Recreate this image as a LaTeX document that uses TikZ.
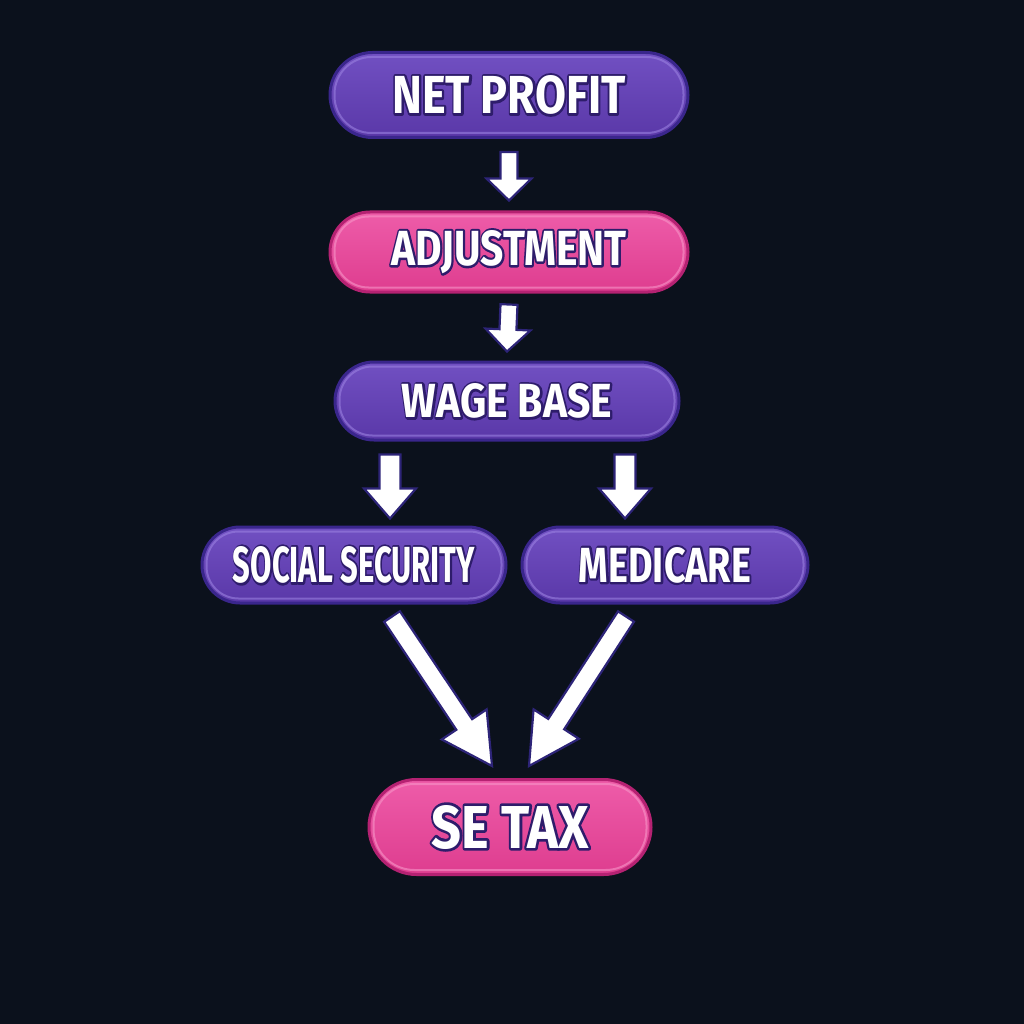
\documentclass[tikz,border=0pt]{standalone}
\usepackage{fontspec}
\setmainfont{Fira Sans}
\usetikzlibrary{calc}
\definecolor{bg}{HTML}{0B111C}
\definecolor{putop}{HTML}{7150C2}
\definecolor{pubot}{HTML}{5A38A8}
\definecolor{puedge}{HTML}{3A268C}
\definecolor{puhl}{HTML}{9A80E0}
\definecolor{pktop}{HTML}{EE5CA9}
\definecolor{pkbot}{HTML}{DE3D8F}
\definecolor{pkedge}{HTML}{B52272}
\definecolor{pkhl}{HTML}{F795C8}
\definecolor{arredge}{HTML}{2D2478}
\newcommand\lbl[3]{\resizebox{#1}{#2}{\bfseries\rlap{\special{pdf:literal 1 Tr 0.9 w 1 j 0.18 0.11 0.42 RG}#3\special{pdf:literal 0 Tr}}#3}}
\newcommand\barrow[5]{%
  \coordinate (bp) at ($(#2)!#5!(#1)$);
  \draw[arr] ($(#1)!#3!90:(#2)$) -- ($(bp)!#3!90:(#2)$) -- ($(bp)!#4!90:(#2)$) -- (#2)
    -- ($(bp)!#4!-90:(#2)$) -- ($(bp)!#3!-90:(#2)$) -- ($(#1)!#3!-90:(#2)$) -- cycle;}
\tikzset{
  pill/.style={rectangle, line width=3pt, inner sep=0pt, text=white},
  purplepill/.style={pill, draw=puedge, top color=putop, bottom color=pubot},
  pinkpill/.style={pill, draw=pkedge, top color=pktop, bottom color=pkbot},
  hlpu/.style={draw=puhl, line width=2pt, opacity=0.6},
  hlpk/.style={draw=pkhl, line width=2pt, opacity=0.6},
  arr/.style={fill=white, draw=arredge, line width=2.2pt, line join=miter},
}
\begin{document}
\begin{tikzpicture}[x=1pt, y=-1pt]
\fill[bg] (0,0) rectangle (1024,1024);
\useasboundingbox (0,0) rectangle (1024,1024);

\node[purplepill, minimum width=358pt, minimum height=85pt, rounded corners=42.5pt] (np) at (509,95) {\lbl{233pt}{38pt}{NET PROFIT}};
\node[pinkpill, minimum width=358pt, minimum height=80pt, rounded corners=40pt] (adj) at (509,252) {\lbl{235pt}{35pt}{ADJUSTMENT}};
\node[purplepill, minimum width=344pt, minimum height=78pt, rounded corners=39pt] (wb) at (507,401) {\lbl{210pt}{34pt}{WAGE BASE}};
\node[purplepill, minimum width=304pt, minimum height=76pt, rounded corners=38pt] (ss) at (354,565) {\lbl{242pt}{36pt}{SOCIAL SECURITY}};
\node[purplepill, minimum width=286pt, minimum height=76pt, rounded corners=38pt] (med) at (665,565) {\lbl{172pt}{35pt}{MEDICARE}};
\node[pinkpill, minimum width=282pt, minimum height=95pt, rounded corners=47.5pt] (se) at (510,827) {\lbl{157pt}{43pt}{SE TAX}};

% inner highlights
\draw[hlpu, rounded corners=37pt] ($(np.south west)+(6,-6)$) rectangle ($(np.north east)+(-6,6)$);
\draw[hlpk, rounded corners=34pt] ($(adj.south west)+(6,-6)$) rectangle ($(adj.north east)+(-6,6)$);
\draw[hlpu, rounded corners=33pt] ($(wb.south west)+(6,-6)$) rectangle ($(wb.north east)+(-6,6)$);
\draw[hlpu, rounded corners=32pt] ($(ss.south west)+(6,-6)$) rectangle ($(ss.north east)+(-6,6)$);
\draw[hlpu, rounded corners=32pt] ($(med.south west)+(6,-6)$) rectangle ($(med.north east)+(-6,6)$);
\draw[hlpk, rounded corners=41pt] ($(se.south west)+(6,-6)$) rectangle ($(se.north east)+(-6,6)$);

% connector end points
\coordinate (a1s) at ($(np.south)+(0,13)$);
\coordinate (a1e) at ($(adj.north)+(0,-10)$);
\coordinate (a2s) at ($(adj.south)+(0,11)$);
\coordinate (a2e) at ($(wb.north)+(0,-9)$);
\coordinate (a3s) at ($(wb.south)+(-117,13)$);
\coordinate (a3e) at ($(ss.north)+(36,-7)$);
\coordinate (a4s) at ($(wb.south)+(118,13)$);
\coordinate (a4e) at ($(med.north)+(-40,-7)$);
\coordinate (a5s) at ($(ss.south)+(38,12)$);
\coordinate (a5e) at ($(se.north)+(-18,-12)$);
\coordinate (a6s) at ($(med.south)+(-39,12)$);
\coordinate (a6e) at ($(se.north)+(19,-12)$);

\barrow{a1s}{a1e}{8.5pt}{22.5pt}{22pt}
\barrow{a2s}{a2e}{8.5pt}{22.5pt}{22pt}
\barrow{a3s}{a3e}{10.5pt}{26pt}{30pt}
\barrow{a4s}{a4e}{10.5pt}{26pt}{30pt}
\barrow{a5s}{a5e}{9.5pt}{27pt}{50pt}
\barrow{a6s}{a6e}{9.5pt}{27pt}{50pt}
\end{tikzpicture}
\end{document}
